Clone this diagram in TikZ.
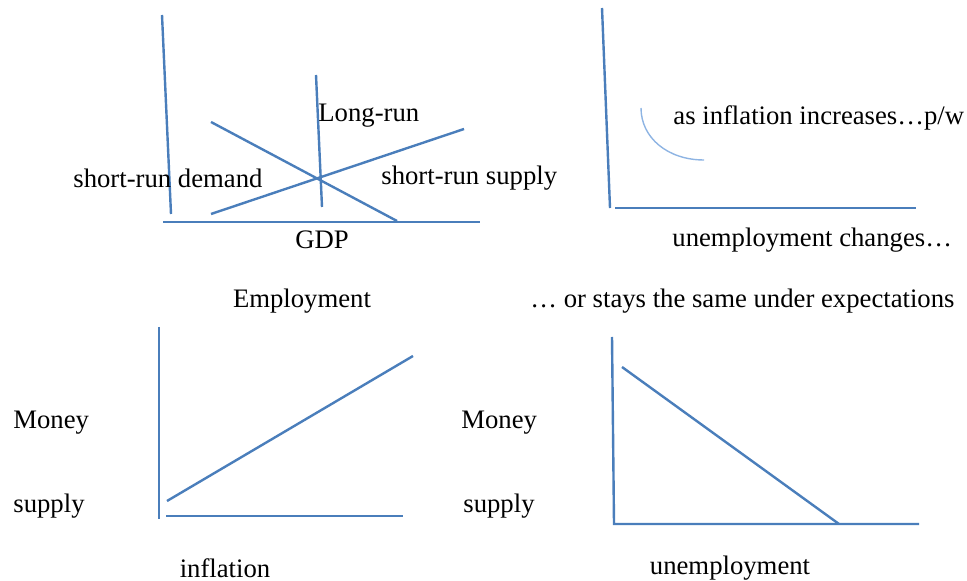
\documentclass[tikz,border=0pt]{standalone}
\usepackage{fontspec}
\setmainfont{Liberation Serif}
\definecolor{axisblue}{HTML}{4A7EBB}
\definecolor{arcblue}{HTML}{8EB4E3}
\begin{document}
\begin{tikzpicture}[x=0.5pt,y=-0.5pt,
  ax/.style={draw=axisblue,line width=1.2pt},
  softarc/.style={draw=arcblue,line width=0.7pt},
  lbl/.style={inner sep=0pt,font=\fontsize{13.35}{16}\selectfont,text=black,yshift=-1.5pt}]
\useasboundingbox (0,0) rectangle (967,581);
% ---------- top-left: GDP diagram ----------
\coordinate (a1t) at (162,15);  \coordinate (a1b) at (171,214);
\coordinate (a1l) at (163,222); \coordinate (a1r) at (480,222);
\coordinate (lrt) at (316,75);  \coordinate (lrb) at (322,207);
\coordinate (dmt) at (211,122); \coordinate (dmb) at (397,221);
\coordinate (sps) at (211,214); \coordinate (spe) at (464,129);
\draw[ax] (a1t) -- (a1b);
\draw[ax] (a1l) -- (a1r);
\draw[ax] (lrt) -- (lrb);
\draw[ax] (dmt) -- (dmb);
\draw[ax] (sps) -- (spe);
\node[lbl,anchor=west] (longrun) at (318,113) {Long-run};
\node[lbl,anchor=west] (srd) at (73,175) {short-run demand};
\node[lbl,anchor=west] (srs) at (381,175) {short-run supply};
\node[lbl] (gdp) at (322,237) {GDP};
\node[lbl] (emp) at (302,298) {Employment};
% ---------- top-right ----------
\coordinate (a2t) at (602,8);   \coordinate (a2b) at (610,208);
\coordinate (a2l) at (615,208); \coordinate (a2r) at (916,208);
\coordinate (arcs) at (641,108); \coordinate (arce) at (704,160);
\draw[ax] (a2t) -- (a2b);
\draw[ax] (a2l) -- (a2r);
\draw[softarc] (arcs) .. controls (641,138) and (668,160) .. (arce);
\node[lbl,anchor=west] (infl) at (673,115) {as inflation increases\ldots p/w};
\node[lbl,anchor=west] (unch) at (672,237) {unemployment changes\ldots};
\node[lbl,anchor=west] (stays) at (530,298) {\ldots\ or stays the same under expectations};
% ---------- bottom-left ----------
\coordinate (a3t) at (159,327); \coordinate (a3b) at (159,519);
\coordinate (a3l) at (166,516); \coordinate (a3r) at (403,516);
\coordinate (l3s) at (167,501); \coordinate (l3e) at (413,356);
\draw[ax] (a3t) -- (a3b);
\draw[ax] (a3l) -- (a3r);
\draw[ax] (l3s) -- (l3e);
\node[lbl,anchor=west] (money1) at (13,420) {Money};
\node[lbl,anchor=west] (supply1) at (13,503) {supply};
\node[lbl] (inflation) at (225,565) {inflation};
% ---------- bottom-right ----------
\coordinate (a4t) at (612,337); \coordinate (a4b) at (614,524);
\coordinate (a4r) at (919,524);
\coordinate (l4s) at (622,367); \coordinate (l4e) at (839,524);
\draw[ax] (a4t) -- (a4b) -- (a4r);
\draw[ax] (l4s) -- (l4e);
\node[lbl,anchor=west] (money2) at (461,420) {Money};
\node[lbl,anchor=west] (supply2) at (463,503) {supply};
\node[lbl] (unemp) at (730,565) {unemployment};
\end{tikzpicture}
\end{document}
